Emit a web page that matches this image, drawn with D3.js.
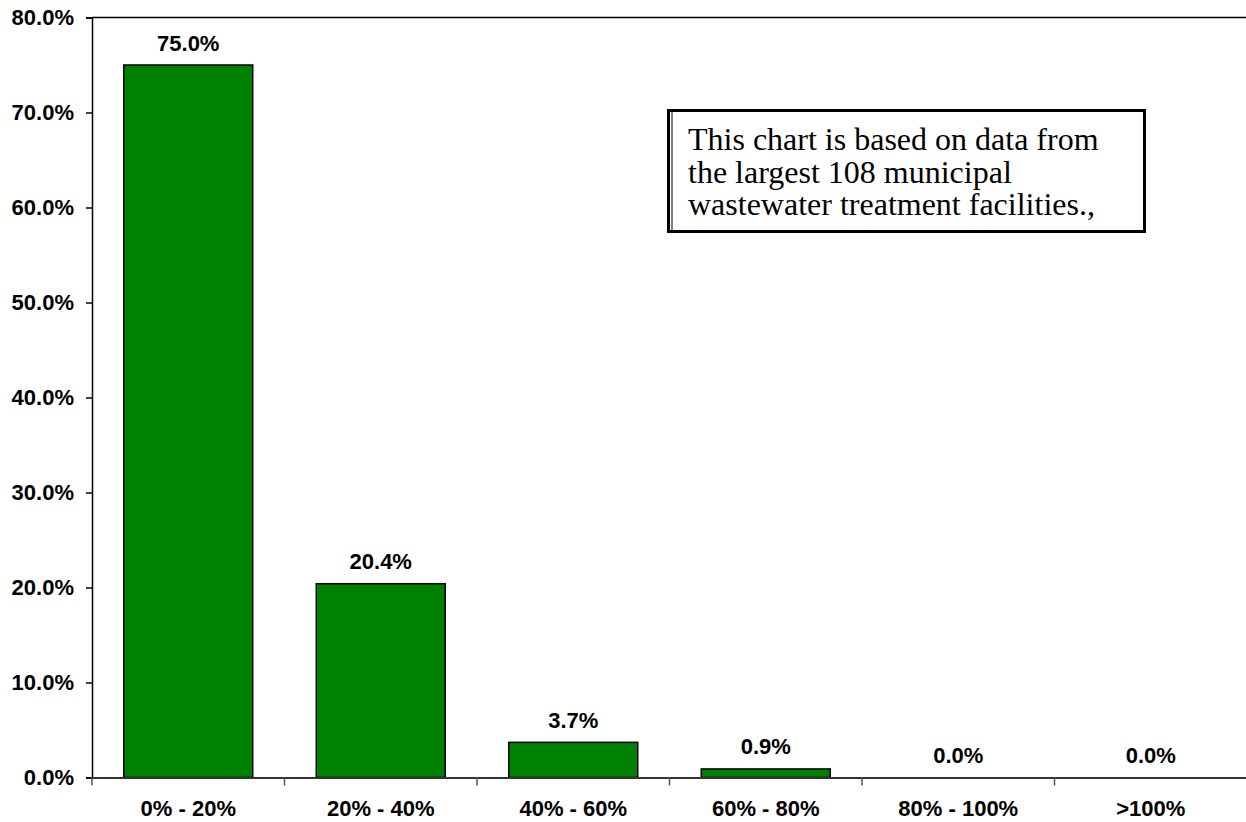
<!DOCTYPE html>
<html><head><meta charset="utf-8">
<script src="https://cdn.jsdelivr.net/npm/d3@7/dist/d3.min.js"></script>
<style>body{margin:0;background:#fff}svg{display:block}</style>
</head><body>
<svg id="c" width="1246" height="822"></svg>
<script>
const categories = ["0% - 20%", "20% - 40%", "40% - 60%", "60% - 80%", "80% - 100%", ">100%"];
const values = [75.0, 20.4, 3.7, 0.9, 0.0, 0.0];
const yTicks = [0, 10, 20, 30, 40, 50, 60, 70, 80];
const noteLines = ["This chart is based on data from", "the largest 108 municipal", "wastewater treatment facilities.,"];

const svg = d3.select("#c");
const L = 92, R = 1247, T = 17.5, B = 777.5;
const x = d3.scaleBand().domain(categories).range([L, R]).paddingInner(0.33).paddingOuter(0.165);
const y = d3.scaleLinear().domain([0, 80]).range([B, T]);
const fmt = d => d.toFixed(1) + "%";
const font = "'Liberation Sans', Arial, sans-serif";
const fs = 22;

// bars
svg.selectAll("rect.bar").data(values).join("rect")
  .attr("class", "bar")
  .attr("x", (d, i) => x(categories[i]))
  .attr("y", d => y(d))
  .attr("width", x.bandwidth())
  .attr("height", d => B - y(d))
  .attr("fill", "#008000").attr("stroke", "#000").attr("stroke-width", 1.5)
  .attr("display", d => d > 0 ? null : "none");

// value labels
svg.selectAll("text.val").data(values).join("text")
  .attr("class", "val")
  .attr("x", (d, i) => x(categories[i]) + x.bandwidth() / 2)
  .attr("y", d => y(d) - 14.5)
  .attr("text-anchor", "middle")
  .attr("font-family", font).attr("font-weight", "bold").attr("font-size", fs)
  .attr("fill", "#000")
  .text(fmt);

// y axis
const yAxis = d3.axisLeft(y).tickValues(yTicks).tickFormat(fmt).tickSize(6).tickPadding(12);
const gy = svg.append("g").attr("transform", `translate(${L},0)`).call(yAxis);
gy.select(".domain").attr("stroke", "#000").attr("stroke-width", 1.5);
gy.selectAll(".tick line").attr("stroke", "#000").attr("stroke-width", 1.5);
gy.selectAll(".tick text").attr("font-family", font).attr("font-weight", "bold").attr("font-size", fs).attr("fill", "#000");

// top border
svg.append("line").attr("x1", L).attr("x2", 1246).attr("y1", T).attr("y2", T)
  .attr("stroke", "#000").attr("stroke-width", 1.5);

// x axis
const gx = svg.append("g").attr("transform", `translate(0,${B})`).call(d3.axisBottom(x).tickSize(0).tickPadding(23));
gx.select(".domain").attr("stroke", "#333").attr("stroke-width", 2);
gx.selectAll(".tick text").attr("font-family", font).attr("font-weight", "bold").attr("font-size", fs).attr("fill", "#000");
const bounds = categories.map(c => x(c) - x.step() * x.paddingInner() / 2);
svg.selectAll("line.xt").data(bounds).join("line")
  .attr("class", "xt")
  .attr("x1", d => d).attr("x2", d => d)
  .attr("y1", B).attr("y2", B + 8)
  .attr("stroke", "#555").attr("stroke-width", 1.5);

// note box
const bx = 668.5, by = 110.5, bw = 476, bh = 121;
svg.append("rect").attr("x", bx).attr("y", by).attr("width", bw).attr("height", bh)
  .attr("fill", "#fff").attr("stroke", "#000").attr("stroke-width", 3);
svg.append("line").attr("x1", bx + 3.5).attr("x2", bx + 3.5).attr("y1", by + 1).attr("y2", by + bh - 1)
  .attr("stroke", "#000").attr("stroke-width", 1);
svg.append("g").selectAll("text").data(noteLines).join("text")
  .attr("x", 688).attr("y", (d, i) => 150 + i * 32.5)
  .attr("font-family", "'Liberation Serif', 'Times New Roman', serif").attr("font-size", 32)
  .attr("fill", "#000")
  .text(d => d);
</script>
</body></html>
